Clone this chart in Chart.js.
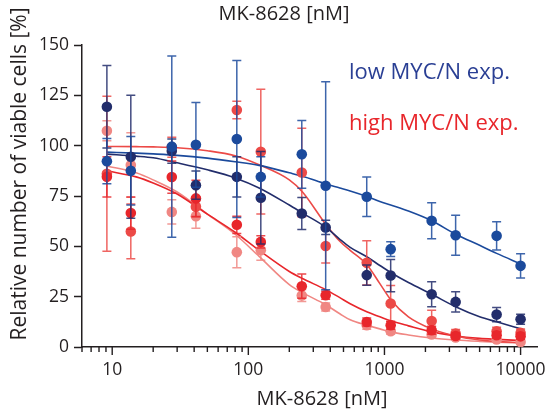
<!DOCTYPE html>
<html>
<head>
<meta charset="utf-8">
<script src="https://cdn.jsdelivr.net/npm/chart.js@4.4.1/dist/chart.umd.min.js"></script>
<style>
  html, body { margin: 0; padding: 0; background: #ffffff; }
  canvas { display: block; }
</style>
</head>
<body>
<canvas id="c" width="552" height="413"></canvas>
<script>
// ---------- data ----------
const concentrations = [9.14, 13.7, 27.4, 41.2, 82.3, 123.5, 247, 370, 741, 1111, 2222, 3333, 6667, 10000];

const lowBlue      = [92.3, 87.5, 99.5, 100.4, 103.3, 84.5, 95.7, 80.1, 74.6, 48.6, 62.7, 55.5, 55.2, 40.3];
const lowBlueErr   = [11.2, 17, 45, 21, 39, 10, 16.8, 51.7, 9.8, 3.7, 8.9, 9.9, 7, 6];

const lowNavy      = [119.3, 94.5, 97.3, 80.4, 84.5, 74.1, 66.3, 59.4, 35.7, 35.5, 26.2, 22.4, 16.1, 13.8];
const lowNavyErr   = [20.5, 30.5, 6, 7, 10, 23, 8, 3.5, 5, 8, 6.2, 5, 3.5, 2.5];

const highMid      = [86, 57.4, 99.2, 69.6, 117.7, 97, 86.7, 50.2, 41.8, 21.6, 12.9, 6.7, 7.8, 7];
const highMidErr   = [38.5, 13.6, 5, 5, 4.3, 31, 22, 8.5, 11, 9, 5.4, 2, 2, 2];

const highRed      = [84.5, 66.5, 84.4, 73.8, 60.7, 52.2, 30.2, 25.7, 12.4, 10.8, 8.3, 5.5, 5.8, 5.3];
const highRedErr   = [10, 8, 8, 9, 4.3, 3, 6, 2, 2, 2, 2, 1.5, 1.5, 1.5];

const highSalmon    = [107.4, 90.4, 67.1, 65, 47.1, 48.1, 25.6, 19.9, 10.8, 7.8, 6.2, 4.7, 3.7, 2.5];
const highSalmonErr = [5, 16, 6, 6, 7.7, 5, 3, 2, 2, 1.5, 1.5, 1, 1, 1];

// fitted curves
const curveX       = [9.14, 15, 20, 30, 50, 80, 120, 200, 250, 370, 470, 560, 741, 925, 1111, 1500, 2222, 3333, 5000, 6667, 10000];
const curveBlue    = [96.8, 96.3, 95.9, 95.2, 93.8, 92, 90.2, 86.5, 84.8, 81, 79, 77.5, 74.8, 72.3, 70.5, 67.5, 62.7, 56, 50.5, 46.5, 41.3];
const curveNavy    = [95.8, 94.8, 94, 91.5, 88, 84, 79, 70.5, 66.5, 59.5, 53.5, 49.5, 44.8, 40.5, 37, 32, 26.2, 20, 15, 12.5, 9.1];
const curveMid     = [99.6, 99.5, 99.4, 99, 97.5, 95, 90.5, 83, 77, 61, 52.5, 48, 41, 31.5, 23.5, 15, 9, 5.5, 3.5, 2.8, 2.2];
const curveRed     = [87.5, 84.5, 81.5, 76, 66, 57, 48, 37.5, 34, 28.5, 24.5, 21.5, 17.5, 15, 13, 10.5, 7.5, 5.5, 4.3, 3.8, 3.2];
const curveSalmon  = [89.9, 86.5, 83, 77, 66, 56, 45, 31, 27, 21, 16.5, 13.5, 10.8, 9, 7.5, 6, 4.5, 3.5, 2.8, 2.4, 2];

// axis ticks
const xMajorTicks = [10, 100, 1000, 10000];
const xMinorTicks = [6, 7, 8, 9, 20, 30, 40, 50, 60, 70, 80, 90, 200, 300, 400, 500, 600, 700, 800, 900,
                     2000, 3000, 4000, 5000, 6000, 7000, 8000, 9000];
const yTicks = [0, 25, 50, 75, 100, 125, 150];

const legendLabels = ['low MYC/N exp.', 'high MYC/N exp.'];
const titleText = 'MK-8628 [nM]';
const xTitle = 'MK-8628 [nM]';
const yTitle = 'Relative number of viable cells [%]';

// ---------- styling ----------
const FONT = '"Open Sans", "Noto Sans", "DejaVu Sans", sans-serif';
const INK = '#231f20';
const C_BLUE = '#1b4a9c';
const C_NAVY = '#222d6b';
const C_RED = '#e8262b';
const C_MID = '#ec4a47';
const C_SALMON = '#f08783';

function pts(xs, ys) { return xs.map((x, i) => ({ x: x, y: ys[i] })); }

function scatterSet(label, ys, errs, color) {
  return {
    label: label, type: 'scatter', data: pts(concentrations, ys), errors: errs,
    showLine: false, pointRadius: 5.3, pointHoverRadius: 5.3,
    backgroundColor: color, borderColor: color, borderWidth: 0, clip: false
  };
}
function curveSet(label, ys, color) {
  return {
    label: label, type: 'line', data: pts(curveX, ys), borderColor: color, borderWidth: 1.6,
    pointRadius: 0, fill: false, cubicInterpolationMode: 'monotone'
  };
}

const errorBars = {
  id: 'errorBars',
  beforeDatasetDraw(chart, args) {
    const ds = chart.data.datasets[args.index];
    if (!ds.errors) return;
    const xs = chart.scales.x, ys = chart.scales.y, ctx = chart.ctx;
    ctx.save();
    ctx.strokeStyle = ds.borderColor;
    ctx.globalAlpha = 0.85;
    ctx.lineWidth = 1.5;
    ds.data.forEach((p, i) => {
      const e = ds.errors[i];
      const px = xs.getPixelForValue(p.x);
      const top = ys.getPixelForValue(p.y + e);
      const bot = ys.getPixelForValue(Math.max(0, p.y - e));
      ctx.beginPath();
      ctx.moveTo(px, top); ctx.lineTo(px, bot);
      ctx.moveTo(px - 4.5, top); ctx.lineTo(px + 4.5, top);
      ctx.moveTo(px - 4.5, bot); ctx.lineTo(px + 4.5, bot);
      ctx.stroke();
    });
    ctx.restore();
  }
};

const decor = {
  id: 'decor',
  afterDraw(chart) {
    const ctx = chart.ctx, xs = chart.scales.x, area = chart.chartArea;
    ctx.save();
    // x-axis tick marks (major longer than minor)
    ctx.strokeStyle = INK; ctx.lineWidth = 1.4;
    ctx.beginPath();
    xMajorTicks.forEach(v => { const p = xs.getPixelForValue(v); ctx.moveTo(p, area.bottom); ctx.lineTo(p, area.bottom + 8); });
    xMinorTicks.forEach(v => { const p = xs.getPixelForValue(v); ctx.moveTo(p, area.bottom); ctx.lineTo(p, area.bottom + 5); });
    ctx.stroke();
    // titles
    ctx.fillStyle = INK;
    ctx.textBaseline = 'alphabetic';
    ctx.textAlign = 'center';
    ctx.font = '20px ' + FONT;
    ctx.fillText(titleText, 284, 19.5);
    ctx.fillText(xTitle, 322, 405);
    ctx.save();
    ctx.translate(26, 174);
    ctx.rotate(-Math.PI / 2);
    ctx.font = '21px ' + FONT;
    ctx.fillText(yTitle, 0, 0);
    ctx.restore();
    // legend text
    ctx.textAlign = 'left';
    ctx.font = '22px ' + FONT;
    ctx.fillStyle = '#2a3f94';
    ctx.fillText(legendLabels[0], 349, 78.5);
    ctx.fillStyle = C_RED;
    ctx.fillText(legendLabels[1], 349, 130);
    ctx.restore();
  }
};

new Chart(document.getElementById('c'), {
  data: {
    datasets: [
      scatterSet('low MYC/N blue', lowBlue, lowBlueErr, C_BLUE),
      scatterSet('low MYC/N navy', lowNavy, lowNavyErr, C_NAVY),
      scatterSet('high MYC/N red', highRed, highRedErr, C_RED),
      scatterSet('high MYC/N mid', highMid, highMidErr, C_MID),
      scatterSet('high MYC/N salmon', highSalmon, highSalmonErr, C_SALMON),
      curveSet('fit blue', curveBlue, C_BLUE),
      curveSet('fit navy', curveNavy, C_NAVY),
      curveSet('fit mid', curveMid, C_MID),
      curveSet('fit red', curveRed, C_RED),
      curveSet('fit salmon', curveSalmon, C_SALMON)
    ]
  },
  options: {
    responsive: false,
    animation: false,
    devicePixelRatio: 1,
    layout: { padding: { left: 0, right: 15, top: 45, bottom: 0 } },
    plugins: { legend: { display: false }, tooltip: { enabled: false }, title: { display: false } },
    scales: {
      x: {
        type: 'logarithmic', min: 6, max: 13200,
        afterBuildTicks: s => { s.ticks = xMajorTicks.concat(xMinorTicks).sort((a, b) => a - b).map(v => ({ value: v })); },
        afterFit: s => { s.height = 66; s.paddingLeft = 0; s.paddingRight = 0; },
        ticks: {
          autoSkip: false, maxRotation: 0, minRotation: 0, padding: 13,
          callback: v => xMajorTicks.includes(v) ? String(v) : '',
          font: { family: FONT, size: 17.5 }, color: INK
        },
        grid: { display: false, drawTicks: false, drawOnChartArea: false },
        border: { display: true, color: INK, width: 1.5 }
      },
      y: {
        min: 0, max: 150,
        afterBuildTicks: s => { s.ticks = yTicks.map(v => ({ value: v })); },
        afterFit: s => { s.width = 82; s.paddingTop = 0; s.paddingBottom = 0; },
        ticks: { padding: 5, font: { family: FONT, size: 17.5 }, color: INK },
        grid: { display: true, drawOnChartArea: false, drawTicks: true, tickLength: 8, tickColor: INK, tickWidth: 1.5 },
        border: { display: true, color: INK, width: 1.5 }
      }
    }
  },
  plugins: [errorBars, decor]
});
</script>
</body>
</html>
